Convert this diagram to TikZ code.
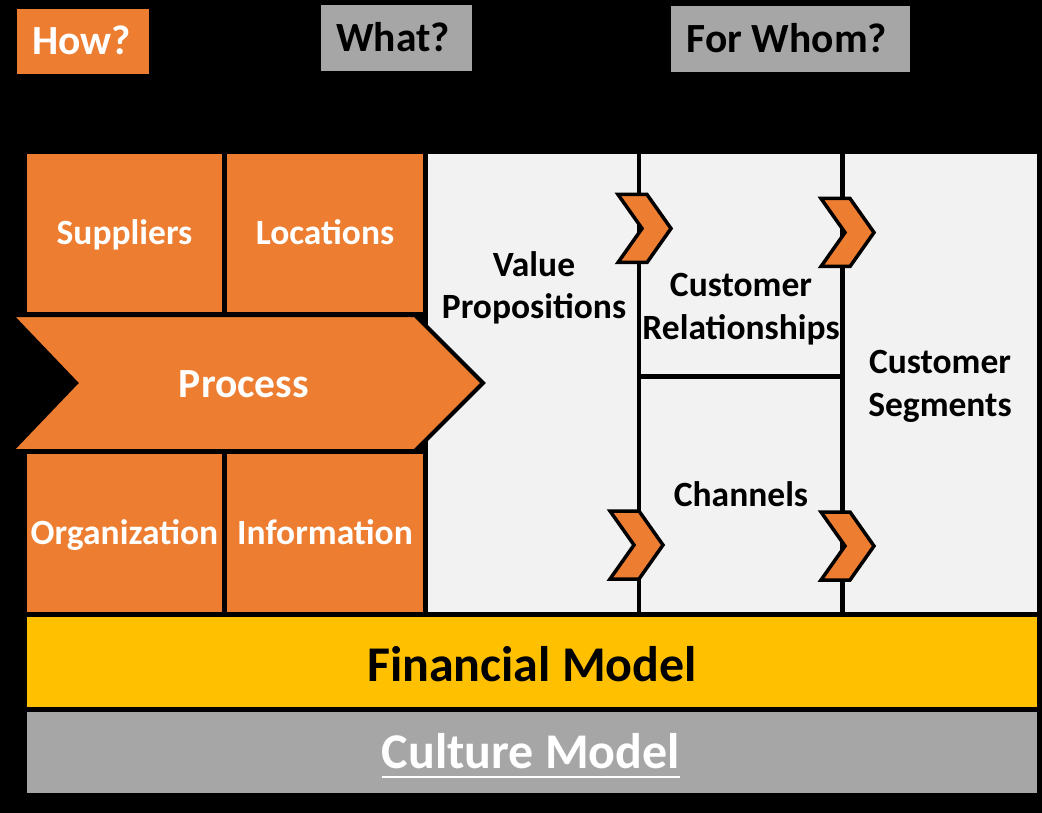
\documentclass[tikz,border=0pt]{standalone}
\usepackage{fontspec}
\setmainfont{Carlito}
\definecolor{orng}{HTML}{ED7D31}
\definecolor{gold}{HTML}{FFC000}
\definecolor{gry}{HTML}{A6A6A6}
\definecolor{pale}{HTML}{F2F2F2}
\begin{document}
\begin{tikzpicture}[x=1pt,y=-1pt,
  lbl/.style={font=\bfseries\fontsize{35.5}{43}\selectfont, inner sep=0pt, align=center, anchor=base},
  obox/.style={fill=orng, text=white, inner sep=0pt, font=\bfseries\fontsize{35.5}{43}\selectfont, text height=22.4pt, text depth=0pt},
  tag/.style={inner sep=0pt, font=\bfseries\fontsize{41.5}{50}\selectfont, text height=26.2pt, text depth=0pt},
  chevstyle/.style={fill=orng, draw=black, line width=3.5pt, line join=miter},
  divider/.style={black, line width=4.5pt},
  chev/.pic={\path[chevstyle] (0,-34) -- (29,-34) -- (53,0) -- (29,34) -- (0,34) -- (24,0) -- cycle;}
]
\fill[black] (0,0) rectangle (1042,813);
\useasboundingbox (0,0) rectangle (1042,813);

% top tags
\node[tag, fill=orng, text=white, minimum width=132pt, minimum height=65pt] (how) at (83,41.5) {How?\kern3pt};
\node[tag, fill=gry, text=black, minimum width=151pt, minimum height=66pt] (what) at (396.5,38) {What?\kern7pt};
\node[tag, fill=gry, text=black, minimum width=239pt, minimum height=66pt] (whom) at (790.5,39) {For Whom?\kern7pt};

% orange boxes
\node[obox, minimum width=195pt, minimum height=158pt] (sup) at (124.5,233) {Suppliers};
\node[obox, minimum width=196pt, minimum height=158pt] (loc) at (325,233) {Locations};
\node[obox, minimum width=195pt, minimum height=158pt] (org) at (124.5,533) {Organization};
\node[obox, minimum width=196pt, minimum height=158pt] (inf) at (325,533) {Information};

% light panel
\fill[pale] (428,154) rectangle (1037,612);
\draw[divider] (639,154) -- (639,612);
\draw[divider] (842.5,154) -- (842.5,612);
\draw[black, line width=5pt] (639,376) -- (842.5,376);

% process arrow
\draw[fill=orng, draw=black, line width=4pt, line join=miter] (11,315) -- (415,315) -- (483,383) -- (415,451) -- (11,451) -- (76,383) -- cycle;
\node[tag, text=white, anchor=center] (proc) at (244,384) {Process};

% chevrons
\pic (c1) at (618,228.5) {chev};
\pic (c2) at (821,232.5) {chev};
\pic (c3) at (610,545) {chev};
\pic (c4) at (821,546) {chev};

% panel labels (base = last line)
\node[lbl] (vp) at (534,319) {Value\\Propositions};
\node[lbl] (cr) at (741,339) {Customer\\Relationships};
\node[lbl] (cs) at (940,416) {Customer\\Segments};
\node[lbl] (ch) at (741,506) {Channels};

% bands
\node[fill=gold, inner sep=0pt, minimum width=1010pt, minimum height=90pt, font=\bfseries\fontsize{50}{60}\selectfont, text height=38pt, text depth=0pt] (fin) at (532,662) {Financial Model};
\node[fill=gry, inner sep=0pt, minimum width=1010pt, minimum height=81pt] (cband) at (532,752.5) {};
\node[font=\bfseries\fontsize{50}{60}\selectfont, text=white, inner sep=0pt, anchor=base] (cult) at (531,768) {Culture Model};
\draw[white, line width=2.5pt] ([yshift=-9pt]cult.base west) -- ([yshift=-9pt]cult.base east);
\end{tikzpicture}
\end{document}
